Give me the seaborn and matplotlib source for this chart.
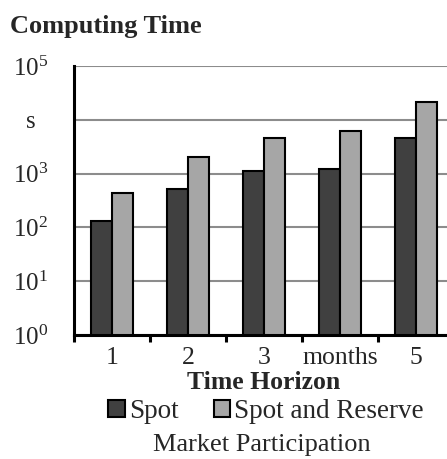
import pandas as pd
import matplotlib
matplotlib.use("Agg")
import matplotlib.pyplot as plt
import seaborn as sns
from matplotlib.ticker import NullLocator

# data (seconds, log scale)
horizons = ['1', '2', '3', 'months', '5']
spot = [131, 510, 1110, 1230, 4680]
spot_reserve = [435, 2000, 4680, 6120, 21500]
ytick_vals = [1, 10, 100, 1000, 10000, 100000]
ytick_labels = ['$10^{0}$', '$10^{1}$', '$10^{2}$', '$10^{3}$', 's', '$10^{5}$']

df = pd.DataFrame({
    'horizon': horizons * 2,
    'time': spot + spot_reserve,
    'market': ['Spot'] * 5 + ['Spot and Reserve'] * 5,
})

sns.set_theme(style='white')
plt.rcParams['font.family'] = ['Liberation Serif', 'DejaVu Serif']
plt.rcParams['mathtext.fontset'] = 'custom'
plt.rcParams['mathtext.rm'] = 'Liberation Serif'
plt.rcParams['mathtext.it'] = 'Liberation Serif:italic'
plt.rcParams['mathtext.bf'] = 'Liberation Serif:bold'

fig = plt.figure(figsize=(4.47, 4.59), dpi=100)
ax = fig.add_axes([0.1655, 0.2702, 0.8501, 0.586])

sns.barplot(data=df, x='horizon', y='time', hue='market', ax=ax,
            palette={'Spot': '#404040', 'Spot and Reserve': '#a6a6a6'},
            width=0.55, edgecolor='black', linewidth=1.5, saturation=1)

ax.set_yscale('log')
ax.set_ylim(1, 1e5)
ax.set_xlim(-0.5, 4.5)
ax.set_yticks(ytick_vals)
ax.set_yticklabels(ytick_labels)
ax.yaxis.set_minor_locator(NullLocator())
for lab in ax.get_yticklabels():
    lab.set_horizontalalignment('center')
ax.tick_params(axis='y', which='major', direction='out', length=5, width=2.2,
               color='black', labelsize=18, pad=26)

# tick marks at category boundaries, labels at centres
ax.set_xticks([i - 0.5 for i in range(6)])
ax.set_xticklabels([''] * 6)
ax.set_xticks(range(5), minor=True)
ax.set_xticklabels(horizons, minor=True)
ax.tick_params(axis='x', which='major', direction='out', length=5, width=2.2,
               color='black', bottom=True)
ax.tick_params(axis='x', which='minor', length=0, labelsize=18.5, pad=9)

ax.yaxis.grid(True, color='#8c8c8c', linewidth=1.5)
ax.xaxis.grid(False)
ax.set_axisbelow(True)
for side in ['top', 'right']:
    ax.spines[side].set_visible(False)
for side in ['left', 'bottom']:
    ax.spines[side].set_color('black')
    ax.spines[side].set_linewidth(2.2)

ax.set_ylabel('')
ax.set_xlabel('Time Horizon', fontsize=18.5, fontweight='bold', labelpad=1)

handles, labels = ax.get_legend_handles_labels()
ax.legend(handles, labels, loc='center', bbox_to_anchor=(0.595, 0.104),
          bbox_transform=fig.transFigure, ncol=2, frameon=False, fontsize=19.5,
          handlelength=0.6, handleheight=0.6, handletextpad=0.15,
          columnspacing=1.3, borderaxespad=0)
fig.text(0.586, 0.03, 'Market Participation', ha='center', va='center', fontsize=19)

fig.text(10 / 447, 1 - 33 / 459, 'Computing Time', ha='left', va='baseline',
         fontsize=19, fontweight='bold')

fig.savefig('out.png', dpi=100)
